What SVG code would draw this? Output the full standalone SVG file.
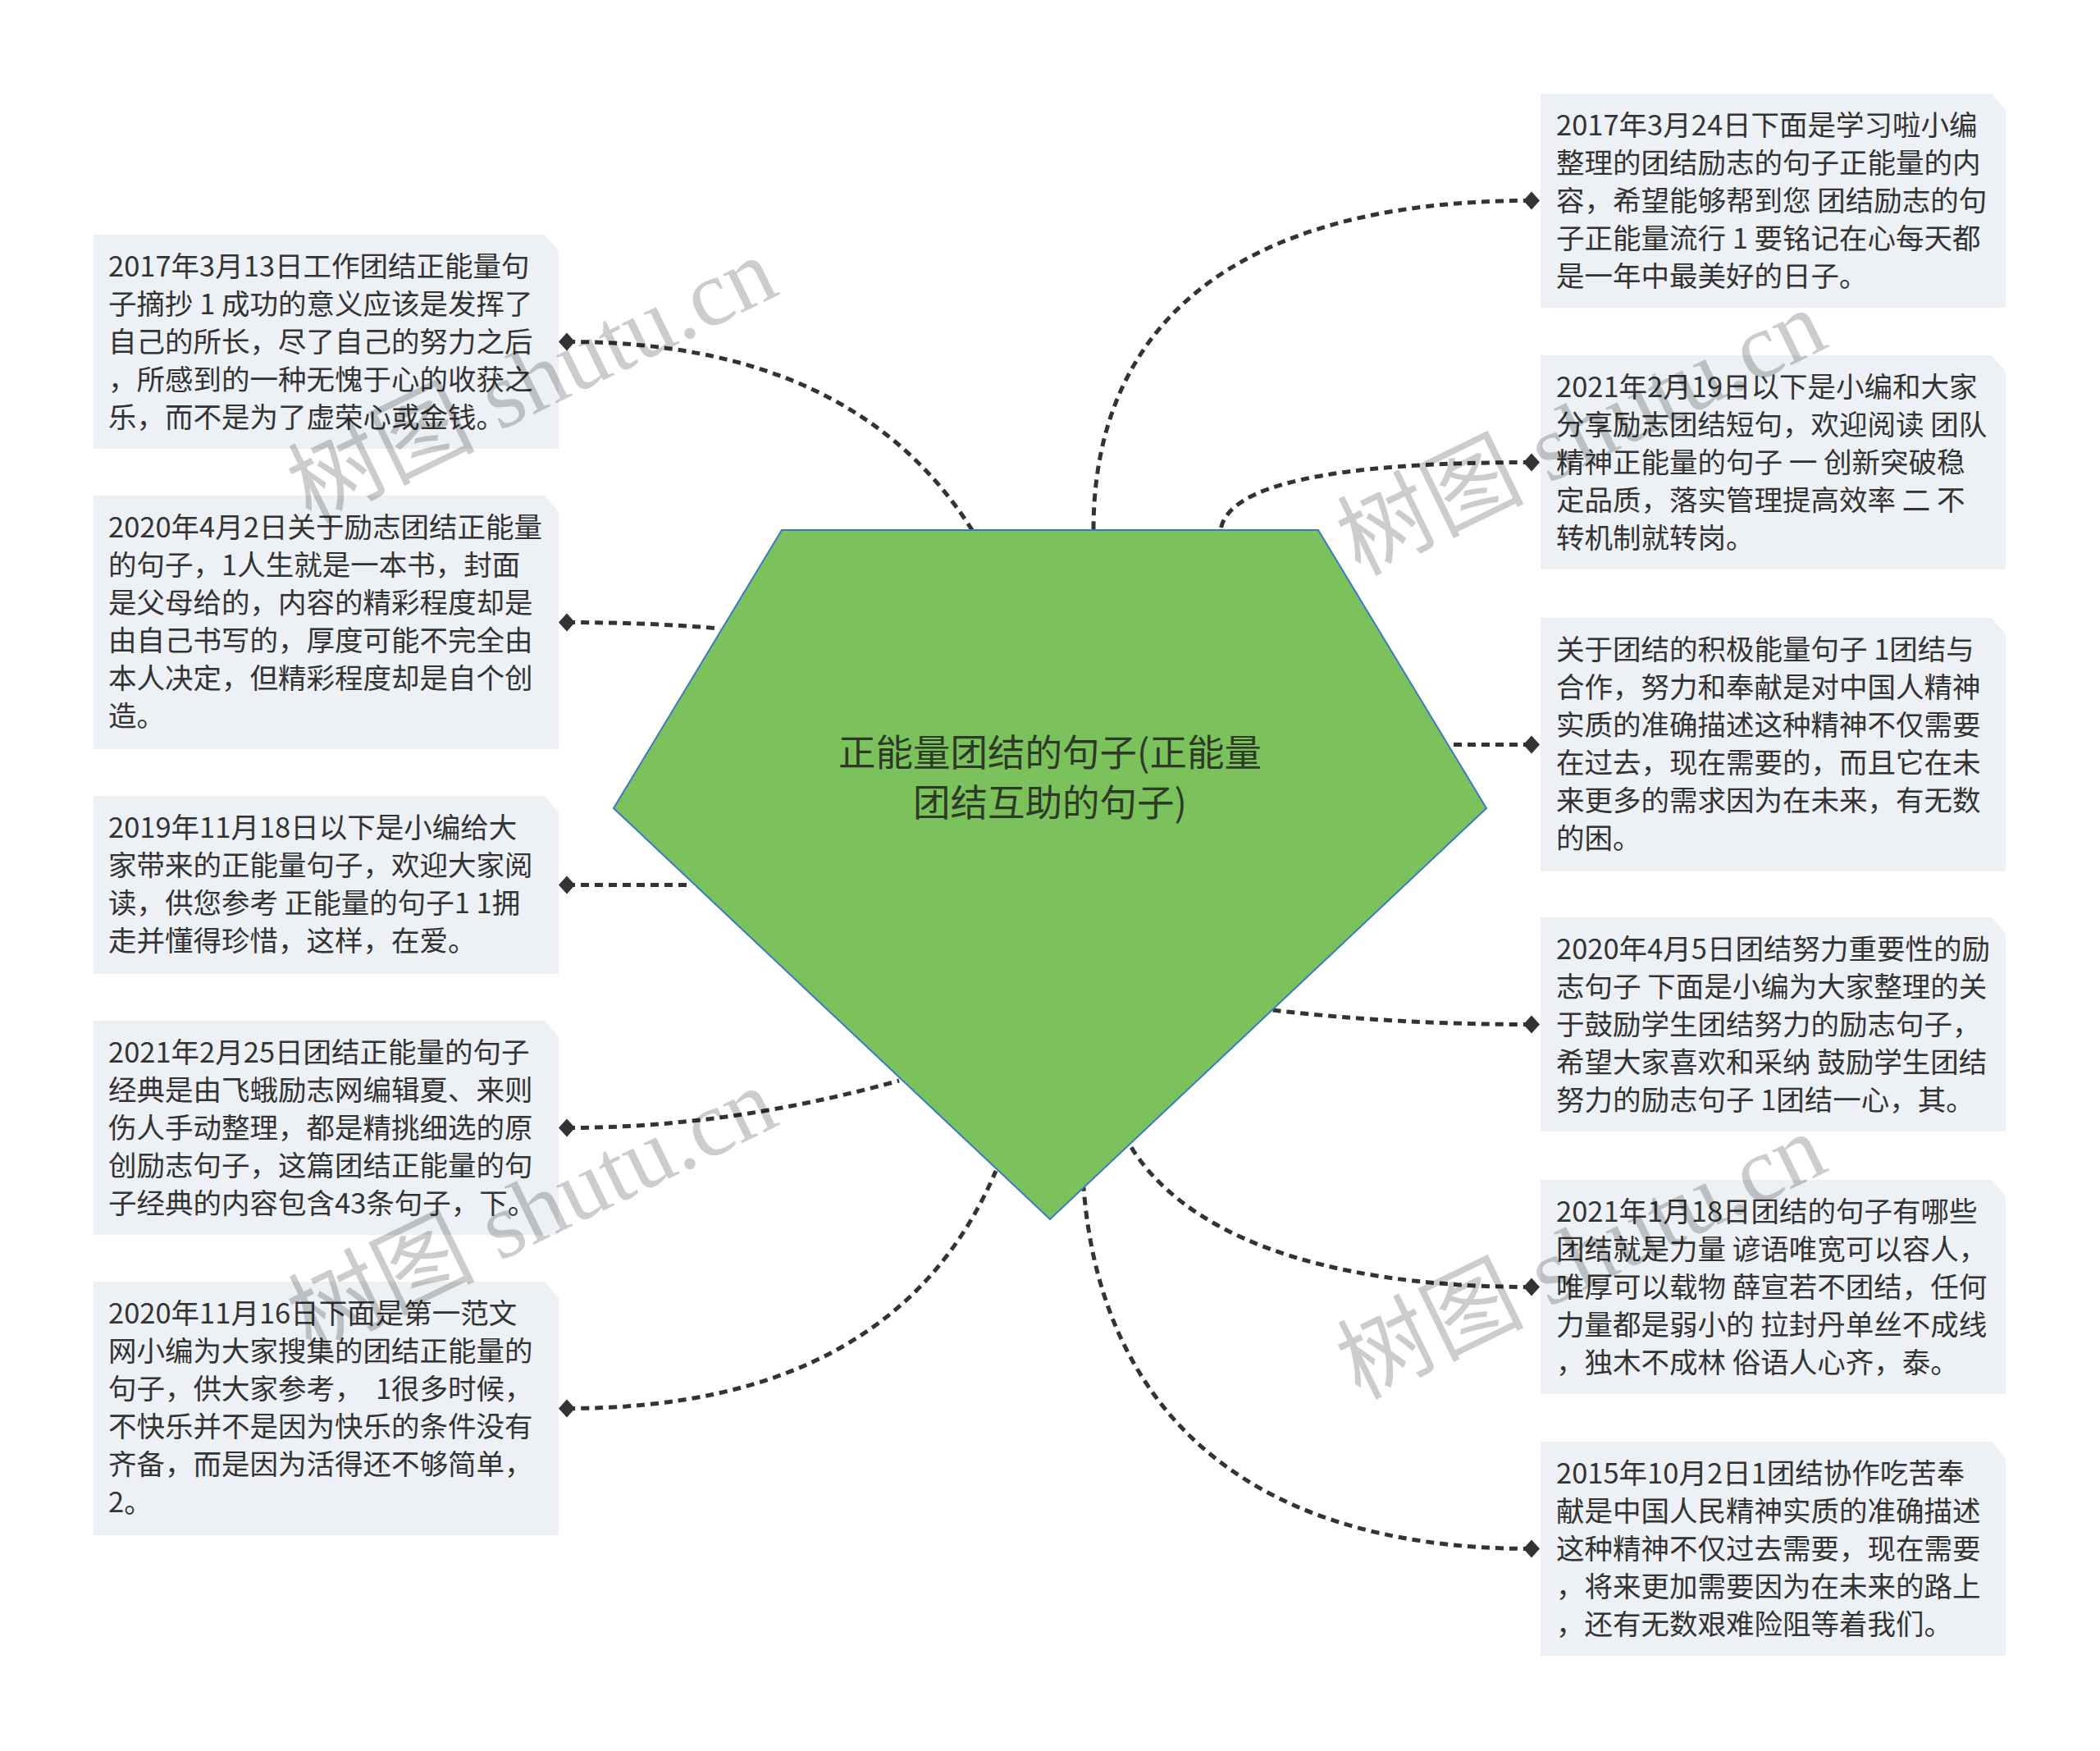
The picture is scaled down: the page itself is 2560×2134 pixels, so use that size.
<svg xmlns="http://www.w3.org/2000/svg" width="2560" height="2134" viewBox="0 0 2560 2134">
<defs>
<style>
.box{fill:#edf0f4;}
.t{font-family:"Noto Sans CJK SC","Liberation Sans",sans-serif;font-size:34.5px;fill:#333333;white-space:pre;}
.ct{font-family:"Noto Sans CJK SC","Liberation Sans",sans-serif;font-size:45.5px;fill:#2e3a28;text-anchor:middle;}
.c{fill:none;stroke:#333333;stroke-width:5;stroke-dasharray:10 7;}
.d{fill:#333333;}
.wm{font-family:"Liberation Serif","Noto Sans CJK SC",serif;font-size:114px;fill:#000000;fill-opacity:0.2;}
</style>
</defs>
<rect width="2560" height="2134" fill="#ffffff"/>
<g id="connectors">
<path class="c" d="M691,416.5 Q1040,416.5 1185,646"/>
<path class="c" d="M691,758.5 Q790,758.5 878,766"/>
<path class="c" d="M691,1078.5 L841,1078.5"/>
<path class="c" d="M691,1374.5 Q889,1374.5 1096,1317"/>
<path class="c" d="M691,1716.5 Q1091,1716.5 1214,1427"/>
<path class="c" d="M1867,244.5 C1500,244.5 1333,400 1333,646"/>
<path class="c" d="M1867,563.5 Q1500,563.5 1488,646"/>
<path class="c" d="M1867,907.5 L1772,907.5"/>
<path class="c" d="M1867,1248.5 Q1700,1248.5 1551,1231"/>
<path class="c" d="M1867,1568.5 C1600,1568.5 1440,1500 1377,1395"/>
<path class="c" d="M1867,1887.5 C1500,1887.5 1340,1700 1321,1447"/>
<path class="d" d="M681,416.5 L691,405.5 L701,416.5 L691,427.5 Z"/>
<path class="d" d="M681,758.5 L691,747.5 L701,758.5 L691,769.5 Z"/>
<path class="d" d="M681,1078.5 L691,1067.5 L701,1078.5 L691,1089.5 Z"/>
<path class="d" d="M681,1374.5 L691,1363.5 L701,1374.5 L691,1385.5 Z"/>
<path class="d" d="M681,1716.5 L691,1705.5 L701,1716.5 L691,1727.5 Z"/>
<path class="d" d="M1857,244.5 L1867,233.5 L1877,244.5 L1867,255.5 Z"/>
<path class="d" d="M1857,563.5 L1867,552.5 L1877,563.5 L1867,574.5 Z"/>
<path class="d" d="M1857,907.5 L1867,896.5 L1877,907.5 L1867,918.5 Z"/>
<path class="d" d="M1857,1248.5 L1867,1237.5 L1877,1248.5 L1867,1259.5 Z"/>
<path class="d" d="M1857,1568.5 L1867,1557.5 L1877,1568.5 L1867,1579.5 Z"/>
<path class="d" d="M1857,1887.5 L1867,1876.5 L1877,1887.5 L1867,1898.5 Z"/>
</g>
<g id="center">
<polygon points="953,646 1607,646 1812,985 1280,1486 748,985" fill="#7cc25c" stroke="#3a78c8" stroke-width="2"/>
<text class="ct"><tspan x="1280" y="934">正能量团结的句子(正能量</tspan><tspan x="1280" y="995">团结互助的句子)</tspan></text>
</g>
<g id="L1">
<path class="box" d="M114,286 H664 L681,306 V547 H114 Z"/>
<text class="t"><tspan x="132" y="337">2017年3月13日工作团结正能量句</tspan><tspan x="132" y="383">子摘抄 1 成功的意义应该是发挥了</tspan><tspan x="132" y="429">自己的所长，尽了自己的努力之后</tspan><tspan x="132" y="475">，所感到的一种无愧于心的收获之</tspan><tspan x="132" y="521">乐，而不是为了虚荣心或金钱。</tspan></text>
</g>
<g id="L2">
<path class="box" d="M114,604 H664 L681,624 V913 H114 Z"/>
<text class="t"><tspan x="132" y="655">2020年4月2日关于励志团结正能量</tspan><tspan x="132" y="701">的句子，1人生就是一本书，封面</tspan><tspan x="132" y="747">是父母给的，内容的精彩程度却是</tspan><tspan x="132" y="793">由自己书写的，厚度可能不完全由</tspan><tspan x="132" y="839">本人决定，但精彩程度却是自个创</tspan><tspan x="132" y="885">造。</tspan></text>
</g>
<g id="L3">
<path class="box" d="M114,970 H664 L681,990 V1187 H114 Z"/>
<text class="t"><tspan x="132" y="1021">2019年11月18日以下是小编给大</tspan><tspan x="132" y="1067">家带来的正能量句子，欢迎大家阅</tspan><tspan x="132" y="1113">读，供您参考 正能量的句子1 1拥</tspan><tspan x="132" y="1159">走并懂得珍惜，这样，在爱。</tspan></text>
</g>
<g id="L4">
<path class="box" d="M114,1244 H664 L681,1264 V1505 H114 Z"/>
<text class="t"><tspan x="132" y="1295">2021年2月25日团结正能量的句子</tspan><tspan x="132" y="1341">经典是由飞蛾励志网编辑夏、来则</tspan><tspan x="132" y="1387">伤人手动整理，都是精挑细选的原</tspan><tspan x="132" y="1433">创励志句子，这篇团结正能量的句</tspan><tspan x="132" y="1479">子经典的内容包含43条句子，下。</tspan></text>
</g>
<g id="L5">
<path class="box" d="M114,1562 H664 L681,1582 V1871 H114 Z"/>
<text class="t"><tspan x="132" y="1613">2020年11月16日下面是第一范文</tspan><tspan x="132" y="1659">网小编为大家搜集的团结正能量的</tspan><tspan x="132" y="1705">句子，供大家参考，  1很多时候，</tspan><tspan x="132" y="1751">不快乐并不是因为快乐的条件没有</tspan><tspan x="132" y="1797">齐备，而是因为活得还不够简单，</tspan><tspan x="132" y="1843">2。</tspan></text>
</g>
<g id="R1">
<path class="box" d="M1878,114 H2428 L2445,134 V375 H1878 Z"/>
<text class="t"><tspan x="1897" y="165">2017年3月24日下面是学习啦小编</tspan><tspan x="1897" y="211">整理的团结励志的句子正能量的内</tspan><tspan x="1897" y="257">容，希望能够帮到您 团结励志的句</tspan><tspan x="1897" y="303">子正能量流行 1 要铭记在心每天都</tspan><tspan x="1897" y="349">是一年中最美好的日子。</tspan></text>
</g>
<g id="R2">
<path class="box" d="M1878,433 H2428 L2445,453 V694 H1878 Z"/>
<text class="t"><tspan x="1897" y="484">2021年2月19日以下是小编和大家</tspan><tspan x="1897" y="530">分享励志团结短句，欢迎阅读 团队</tspan><tspan x="1897" y="576">精神正能量的句子 一 创新突破稳</tspan><tspan x="1897" y="622">定品质，落实管理提高效率 二 不</tspan><tspan x="1897" y="668">转机制就转岗。</tspan></text>
</g>
<g id="R3">
<path class="box" d="M1878,753 H2428 L2445,773 V1062 H1878 Z"/>
<text class="t"><tspan x="1897" y="804">关于团结的积极能量句子 1团结与</tspan><tspan x="1897" y="850">合作，努力和奉献是对中国人精神</tspan><tspan x="1897" y="896">实质的准确描述这种精神不仅需要</tspan><tspan x="1897" y="942">在过去，现在需要的，而且它在未</tspan><tspan x="1897" y="988">来更多的需求因为在未来，有无数</tspan><tspan x="1897" y="1034">的困。</tspan></text>
</g>
<g id="R4">
<path class="box" d="M1878,1118 H2428 L2445,1138 V1379 H1878 Z"/>
<text class="t"><tspan x="1897" y="1169">2020年4月5日团结努力重要性的励</tspan><tspan x="1897" y="1215">志句子 下面是小编为大家整理的关</tspan><tspan x="1897" y="1261">于鼓励学生团结努力的励志句子，</tspan><tspan x="1897" y="1307">希望大家喜欢和采纳 鼓励学生团结</tspan><tspan x="1897" y="1353">努力的励志句子 1团结一心，其。</tspan></text>
</g>
<g id="R5">
<path class="box" d="M1878,1438 H2428 L2445,1458 V1699 H1878 Z"/>
<text class="t"><tspan x="1897" y="1489">2021年1月18日团结的句子有哪些</tspan><tspan x="1897" y="1535">团结就是力量 谚语唯宽可以容人，</tspan><tspan x="1897" y="1581">唯厚可以载物 薛宣若不团结，任何</tspan><tspan x="1897" y="1627">力量都是弱小的 拉封丹单丝不成线</tspan><tspan x="1897" y="1673">，独木不成林 俗语人心齐，泰。</tspan></text>
</g>
<g id="R6">
<path class="box" d="M1878,1757 H2428 L2445,1777 V2018 H1878 Z"/>
<text class="t"><tspan x="1897" y="1808">2015年10月2日1团结协作吃苦奉</tspan><tspan x="1897" y="1854">献是中国人民精神实质的准确描述</tspan><tspan x="1897" y="1900">这种精神不仅过去需要，现在需要</tspan><tspan x="1897" y="1946">，将来更加需要因为在未来的路上</tspan><tspan x="1897" y="1992">，还有无数艰难险阻等着我们。</tspan></text>
</g>
<g id="watermark">
<text class="wm" transform="translate(378,638) rotate(-26)">树图 shutu.cn</text>
<text class="wm" transform="translate(1657,702) rotate(-26)">树图 shutu.cn</text>
<text class="wm" transform="translate(378,1650) rotate(-26)">树图 shutu.cn</text>
<text class="wm" transform="translate(1657,1706) rotate(-26)">树图 shutu.cn</text>
</g>
</svg>
